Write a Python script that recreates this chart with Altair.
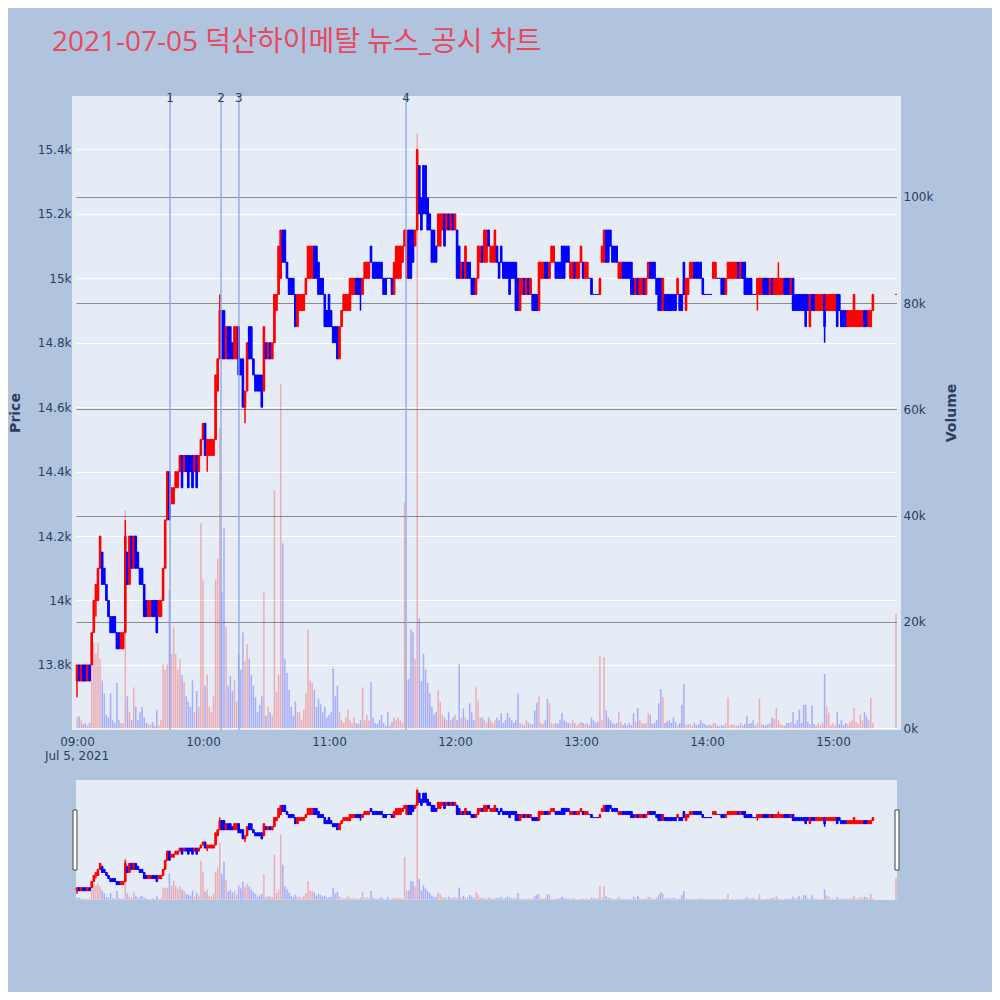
import altair as alt
import pandas as pd

title_text = "2021-07-05 덕산하이메탈 뉴스_공시 차트"
tick_minutes = [0, 60, 120, 180, 240, 300, 360]
tick_labels = ["09:00", "10:00", "11:00", "12:00", "13:00", "14:00", "15:00"]
date_label = "Jul 5, 2021"
price_ticks = [13800, 14000, 14200, 14400, 14600, 14800, 15000, 15200, 15400]
volume_ticks = [0, 20000, 40000, 60000, 80000, 100000]

# minute offsets from 09:00 (trading stops 15:20, closing auction at 15:30)
minutes = list(range(0, 380)) + [390]

opens = [
    13750, 13800, 13750, 13800, 13800, 13750, 13800, 13800, 13900, 14000,
    14000, 14100, 14150, 14100, 14050, 14000, 13950, 13950, 13950, 13900,
    13900, 13850, 13850, 13900, 14150, 14050, 14200, 14100, 14200, 14150,
    14100, 14100, 14050, 14000, 13950, 13950, 14000, 14000, 14000, 13950,
    13950, 14000, 14100, 14250, 14400, 14300, 14300, 14350, 14350, 14400,
    14450, 14400, 14450, 14450, 14450, 14450, 14400, 14450, 14400, 14450,
    14500, 14550, 14450, 14450, 14450, 14450, 14500, 14650, 14750, 14900,
    14900, 14750, 14850, 14850, 14800, 14750, 14750, 14850, 14750, 14750,
    14600, 14650, 14850, 14850, 14750, 14700, 14700, 14700, 14700, 14650,
    14800, 14750, 14800, 14750, 14800, 14900, 14950, 15000, 15150, 15150,
    15050, 15000, 15000, 15000, 14950, 14850, 14900, 14900, 14900, 14950,
    15000, 15000, 15000, 15100, 15100, 15050, 15000, 15000, 14950, 14900,
    14950, 14900, 14850, 14850, 14850, 14750, 14850, 14900, 14900, 14900,
    14900, 14950, 14950, 15000, 15000, 15000, 14950, 15000, 15000, 15000,
    15100, 15050, 15050, 15050, 15050, 15050, 15000, 15000, 15000, 15000,
    15000, 14950, 15000, 15000, 15000, 15050, 15100, 15000, 15150, 15150,
    15150, 15100, 15150, 15350, 15250, 15350, 15350, 15250, 15200, 15150,
    15150, 15100, 15100, 15100, 15150, 15200, 15150, 15200, 15150, 15200,
    15150, 15150, 15100, 15000, 15050, 15000, 15050, 15050, 15000, 15000,
    14950, 15000, 15050, 15100, 15050, 15050, 15150, 15050, 15050, 15050,
    15100, 15050, 15100, 15050, 15050, 15050, 15050, 15050, 15050, 15050,
    15000, 14900, 14950, 15000, 14950, 15000, 14950, 14950, 14950, 14950,
    14900, 15000, 15000, 15050, 15050, 15000, 15050, 15050, 15050, 15050,
    15050, 15100, 15100, 15100, 15100, 15000, 15000, 15050, 15000, 15000,
    15050, 15050, 15000, 15000, 15000, 15000, 14950, 14950, 14950, 14950,
    15050, 15050, 15150, 15150, 15150, 15100, 15100, 15100, 15000, 15000,
    15050, 15050, 15050, 15050, 15050, 15000, 14950, 15000, 14950, 14950,
    15000, 14950, 15000, 15050, 15050, 15050, 15000, 15000, 15000, 14900,
    14950, 14950, 14950, 14950, 14950, 14950, 14950, 14950, 14950, 15050,
    14900, 14950, 15000, 15000, 15050, 15050, 15050, 15050, 15000, 14950,
    14950, 14950, 14950, 15000, 15000, 15000, 15000, 15000, 15000, 14950,
    15000, 15000, 15000, 15000, 15000, 15050, 15000, 15050, 15050, 15000,
    15000, 15000, 14950, 14950, 14950, 14950, 14950, 15000, 15000, 15000,
    14950, 15000, 14950, 14950, 14950, 14950, 14950, 15000, 15000, 15000,
    14950, 15000, 14950, 14950, 14950, 14950, 14950, 14950, 14950, 14850,
    14950, 14950, 14900, 14900, 14900, 14900, 14950, 14900, 14900, 14900,
    14900, 14900, 14950, 14950, 14900, 14900, 14900, 14850, 14850, 14850,
    14850, 14850, 14850, 14850, 14850, 14900, 14900, 14850, 14850, 14900,
    14950,
]

closes = [
    13800, 13750, 13800, 13750, 13750, 13800, 13750, 13900, 14000, 14050,
    14100, 14200, 14050, 14050, 14000, 13950, 13900, 13900, 13900, 13850,
    13850, 13900, 13900, 14200, 14050, 14200, 14100, 14200, 14100, 14100,
    14050, 14050, 13950, 13950, 14000, 14000, 13950, 13950, 13900, 14000,
    14000, 14100, 14250, 14400, 14250, 14350, 14350, 14400, 14400, 14450,
    14350, 14450, 14400, 14350, 14400, 14350, 14450, 14350, 14450, 14500,
    14550, 14450, 14500, 14500, 14500, 14500, 14700, 14750, 14900, 14750,
    14750, 14850, 14750, 14750, 14750, 14850, 14850, 14700, 14700, 14600,
    14650, 14800, 14750, 14750, 14700, 14650, 14650, 14650, 14600, 14850,
    14750, 14800, 14750, 14800, 14950, 14950, 15100, 15150, 15050, 15050,
    15000, 14950, 14950, 14950, 14850, 14950, 14950, 14950, 14950, 15000,
    15100, 15100, 15100, 15000, 15000, 14950, 14950, 14950, 14850, 14850,
    14850, 14850, 14800, 14800, 14750, 14850, 14900, 14950, 14950, 14950,
    15000, 15000, 15000, 14950, 14950, 14950, 15000, 15050, 15050, 15050,
    15050, 15000, 15000, 15000, 15000, 15000, 14950, 14950, 15000, 15000,
    14950, 15050, 15100, 15100, 15100, 15100, 15150, 15150, 15000, 15000,
    15050, 15150, 15400, 15200, 15150, 15200, 15200, 15150, 15150, 15050,
    15050, 15050, 15200, 15200, 15200, 15100, 15200, 15150, 15200, 15150,
    15200, 15000, 15000, 15050, 15000, 15100, 15000, 15000, 14950, 14950,
    15000, 15100, 15100, 15050, 15150, 15150, 15100, 15100, 15100, 15150,
    15050, 15000, 15050, 15000, 15000, 15000, 14950, 15000, 15000, 14900,
    14900, 15000, 15000, 14950, 15000, 14950, 15000, 14900, 14900, 14900,
    15050, 15050, 15050, 15000, 15000, 15050, 15100, 15100, 15000, 15000,
    15000, 15000, 15000, 15050, 15050, 15050, 15050, 15000, 15050, 15050,
    15100, 15000, 15050, 15050, 15000, 14950, 14950, 14950, 14950, 15000,
    15100, 15150, 15050, 15050, 15100, 15050, 15050, 15050, 15050, 15050,
    15000, 15000, 15000, 15000, 14950, 14950, 15000, 14950, 15000, 15000,
    14950, 15000, 15050, 15000, 15000, 15000, 14950, 14900, 14900, 15000,
    14900, 14900, 14900, 14900, 14900, 14900, 15000, 14900, 14900, 14950,
    15000, 15000, 15050, 15050, 15000, 15000, 15000, 15000, 14950, 14950,
    14950, 14950, 14950, 15050, 15050, 15000, 15000, 14950, 14950, 15000,
    15050, 15050, 15050, 15050, 15050, 15000, 15050, 15000, 14950, 14950,
    14950, 14950, 14950, 14950, 15000, 15000, 15000, 14950, 14950, 14950,
    15000, 14950, 15000, 15000, 15000, 15000, 15000, 14950, 14950, 14950,
    15000, 14900, 14900, 14900, 14900, 14900, 14900, 14850, 14900, 14950,
    14900, 14900, 14950, 14950, 14950, 14950, 14850, 14950, 14950, 14950,
    14950, 14950, 14850, 14900, 14850, 14850, 14850, 14900, 14900, 14900,
    14950, 14900, 14900, 14900, 14900, 14850, 14850, 14900, 14900, 14950,
    14950,
]

volumes = [
    2000, 2200, 1500, 800, 1000, 500, 1000, 12000, 16000, 14000,
    16000, 13000, 9000, 6500, 2500, 2000, 6600, 1500, 1000, 8500,
    1500, 1000, 1000, 41000, 6000, 3000, 1500, 7700, 4000, 1500,
    3000, 4000, 2000, 1000, 800, 700, 1200, 500, 3500, 500,
    1500, 12000, 11000, 12000, 26000, 14000, 19000, 14000, 11000, 13000,
    10000, 8700, 6000, 5000, 4000, 9000, 3000, 7000, 4000, 38600,
    28000, 8000, 10000, 4000, 3000, 6000, 28000, 32000, 56500, 25600,
    37600, 19000, 8000, 9800, 7000, 9000, 5000, 14000, 11000, 18000,
    12600, 15800, 13000, 10000, 8000, 5800, 3000, 4400, 6000, 25600,
    2400, 4000, 3000, 2400, 44800, 6800, 10000, 64800, 34800, 13000,
    10400, 7200, 4000, 2400, 5000, 3000, 3000, 1500, 3500, 6600,
    18600, 9000, 8500, 7200, 4000, 5600, 4500, 3000, 4000, 2000,
    2500, 3000, 11300, 6000, 8000, 3000, 1500, 1000, 2000, 3500,
    1500, 1000, 2000, 1000, 800, 1500, 7700, 1500, 2500, 1500,
    8700, 2000, 1000, 800, 1500, 2500, 1000, 500, 3000, 500,
    1200, 2000, 1500, 2000, 1500, 1000, 42500, 9200, 9200, 18600,
    18000, 13000, 112000, 20700, 8900, 14000, 11000, 8500, 6600, 4000,
    2600, 3000, 7200, 5000, 2500, 2000, 1500, 3000, 1500, 2000,
    2500, 1500, 12000, 2000, 3700, 2000, 1500, 4700, 3000, 1500,
    7700, 5200, 2000, 2000, 1500, 1000, 2000, 1500, 1000, 1500,
    2000, 1500, 2800, 1000, 1500, 2900, 2000, 1500, 1000, 1500,
    6600, 1000, 800, 500, 1500, 1000, 800, 800, 3400, 4800,
    6000, 1000, 800, 1500, 5500, 4700, 1000, 800, 1000, 800,
    1500, 2900, 1500, 1200, 1000, 800, 1500, 1000, 500, 1000,
    1200, 1000, 800, 1000, 500, 2000, 1500, 1000, 1200, 13700,
    1500, 13400, 3400, 2000, 1500, 1000, 800, 1000, 3000, 1200,
    600, 1000, 500, 1000, 600, 2800, 1200, 3800, 1500, 1000,
    800, 1000, 2800, 2500, 800, 1000, 1500, 4700, 7400, 5900,
    1000, 1300, 1500, 1000, 2000, 1200, 600, 1000, 4400, 8300,
    600, 800, 800, 500, 1000, 600, 800, 1500, 1000, 800,
    500, 600, 500, 1000, 1000, 500, 300, 600, 500, 1000,
    5800, 500, 800, 600, 500, 600, 1000, 500, 800, 2300,
    800, 1000, 1500, 500, 1000, 5500, 800, 600, 500, 800,
    1000, 2000, 1800, 3800, 1500, 800, 600, 500, 1000, 1000,
    1200, 3000, 800, 1500, 3500, 1000, 4400, 4400, 1200, 800,
    4300, 800, 500, 1000, 500, 1000, 10200, 4000, 2900, 600,
    1000, 500, 3000, 800, 1500, 600, 1000, 800, 1200, 1500,
    3800, 1200, 800, 2500, 1500, 3000, 2200, 1500, 5700, 1000,
    21500,
]

high_wicks = {23: 14250, 68: 14950, 334: 15050}
low_wicks = {0: 13700, 9: 13950, 62: 14400, 80: 14550, 135: 14900, 324: 14900, 356: 14800}
up_dojis = {390}

event_minutes = [44.3, 68.6, 77.1, 156.7]
event_labels = ["1", "2", "3", "4"]

# ---------------------------------------------------------------- tables
rows = []
for i, m in enumerate(minutes):
    o, c = opens[i], closes[i]
    h = max(o, c, high_wicks.get(m, o))
    l = min(o, c, low_wicks.get(m, o))
    d = "up" if (c > o or (c == o and m in up_dojis)) else "down"
    rows.append({"m": m, "o": o, "c": c, "h": h, "l": l, "v": volumes[i], "d": d})
df = pd.DataFrame(rows)
ev = pd.DataFrame({"m": event_minutes, "lab": event_labels})
one = pd.DataFrame({"k": [0]})

# ---------------------------------------------------------------- geometry
W, H = 821, 634          # view: page x 76..897, y 96..730
OX, OY = 76, 96
def px(x):
    return x - OX
def py(y):
    return y - OY

BG = "#B0C4DE"
PLOT_BG = "#E5ECF6"
TXT = "#2a3f5f"
FONT = "DejaVu Sans"

price_dom = [13598, 15566]
vol_dom = [-330, 119010]
xscale = alt.Scale(domain=[-0.476, 390.476], nice=False, zero=False, padding=0)
xaxis = alt.Axis(values=tick_minutes, title=None, ticks=False, tickSize=0, domain=False,
                 grid=False, labelFont=FONT, labelFontSize=12, labelColor=TXT, labelPadding=6,
                 labelFlush=False, labelOverlap=False, labelBound=False,
                 labelExpr="[" + ",".join("'%s'" % t for t in tick_labels) + "][round(datum.value/60)]")
X = alt.X("m:Q", scale=xscale, axis=xaxis)

color_scale = alt.Scale(domain=["up", "down"], range=["#ff0000", "#0000ff"])

price_axis = alt.Axis(orient="left", values=price_ticks, format="~s", title=None, ticks=False,
                      tickSize=0, domain=False, grid=True, gridColor="white", gridWidth=1,
                      labelFont=FONT, labelFontSize=12, labelColor=TXT, labelPadding=5)
vol_axis = alt.Axis(orient="right", values=volume_ticks, format="~s", title=None, ticks=False,
                    tickSize=0, domain=False, grid=True,
                    gridColor={"condition": {"test": "datum.value === 0", "value": "#ffffff"},
                               "value": "#8c8c8c"},
                    gridWidth=1, labelFont=FONT, labelFontSize=12, labelColor=TXT, labelPadding=6)

def rect(x1, x2, y1, y2, fill, stroke=None):
    kw = {"fill": fill}
    if stroke:
        kw.update(stroke=stroke, strokeWidth=1)
    return alt.Chart(one).mark_rect(**kw).encode(
        x=alt.value(px(x1)), x2=alt.value(px(x2)), y=alt.value(py(y1)), y2=alt.value(py(y2)))

def text(s, x, y, **kw):
    return alt.Chart(pd.DataFrame({"t": [s]})).mark_text(**kw).encode(
        x=alt.value(px(x)), y=alt.value(py(y)), text="t:N")

layers = []
# fixed page bounds markers
layers.append(rect(8, 9, 8, 9, BG))
layers.append(rect(991, 992, 991, 992, BG))
# plot background side strips
layers.append(rect(72, 76, 96, 730, PLOT_BG))
layers.append(rect(897, 901, 96, 730, PLOT_BG))

# main volume
layers.append(alt.Chart(df).mark_bar(width=1.5, opacity=0.27).encode(
    x=X,
    y=alt.Y("v:Q", scale=alt.Scale(domain=vol_dom, nice=False, zero=False), axis=vol_axis),
    y2=alt.datum(0),
    color=alt.Color("d:N", scale=color_scale, legend=None)))
# main wicks
layers.append(alt.Chart(df).mark_rule(strokeWidth=1.5).encode(
    x=X,
    y=alt.Y("l:Q", scale=alt.Scale(domain=price_dom, nice=False, zero=False), axis=None),
    y2="h:Q",
    color=alt.Color("d:N", scale=color_scale, legend=None)))
# main bodies
layers.append(alt.Chart(df).mark_bar(width=1.6, strokeWidth=1).encode(
    x=X,
    y=alt.Y("o:Q", scale=alt.Scale(domain=price_dom, nice=False, zero=False), axis=price_axis),
    y2="c:Q",
    fill=alt.Fill("d:N", scale=color_scale, legend=None),
    stroke=alt.Stroke("d:N", scale=color_scale, legend=None)))
# event lines + labels
layers.append(alt.Chart(ev).mark_rule(color="#8ea8e8", strokeWidth=1.5, opacity=0.9).encode(
    x=X, y=alt.value(0), y2=alt.value(H)))
layers.append(alt.Chart(ev).mark_text(font=FONT, fontSize=12, color=TXT, baseline="alphabetic",
                                      align="center").encode(
    x=X, y=alt.value(py(102)), text="lab:N"))

# range slider
layers.append(rect(76, 897, 780, 900, PLOT_BG))
slider_range = [py(900), py(780)]
layers.append(alt.Chart(df).mark_bar(width=1.5, opacity=0.27).encode(
    x=X,
    y=alt.Y("v:Q", scale=alt.Scale(domain=vol_dom, range=slider_range, nice=False, zero=False), axis=None),
    y2=alt.datum(0),
    color=alt.Color("d:N", scale=color_scale, legend=None)))
layers.append(alt.Chart(df).mark_rule(strokeWidth=1.5).encode(
    x=X,
    y=alt.Y("l:Q", scale=alt.Scale(domain=price_dom, range=slider_range, nice=False, zero=False), axis=None),
    y2="h:Q",
    color=alt.Color("d:N", scale=color_scale, legend=None)))
layers.append(alt.Chart(df).mark_bar(width=1.6, strokeWidth=1).encode(
    x=X,
    y=alt.Y("o:Q", scale=alt.Scale(domain=price_dom, range=slider_range, nice=False, zero=False), axis=None),
    y2="c:Q",
    fill=alt.Fill("d:N", scale=color_scale, legend=None),
    stroke=alt.Stroke("d:N", scale=color_scale, legend=None)))
layers.append(rect(73, 77, 810, 870, "white", "#444444"))
layers.append(rect(895, 899, 810, 870, "white", "#444444"))

# texts
layers.append(text(title_text, 52, 51, align="left", baseline="alphabetic",
                   font='"Open Sans", "Noto Sans CJK KR"', fontSize=28, color="#E8485F"))
layers.append(text("Price", 16, 413, angle=270, align="center", baseline="middle",
                   font=FONT, fontSize=14, fontWeight="bold", color=TXT))
layers.append(text("Volume", 952, 413, angle=270, align="center", baseline="middle",
                   font=FONT, fontSize=14, fontWeight="bold", color=TXT))
layers.append(text(date_label, 77, 760, align="center", baseline="alphabetic",
                   font=FONT, fontSize=12, color=TXT))

chart = alt.layer(*layers).resolve_scale(y="independent").properties(
    width=W, height=H, padding={"left": 0, "top": 0, "right": 0, "bottom": 0}
).configure(background=BG).configure_view(fill=PLOT_BG, strokeWidth=0)

chart.save("out.html", embed_options={"renderer": "svg", "actions": False})
